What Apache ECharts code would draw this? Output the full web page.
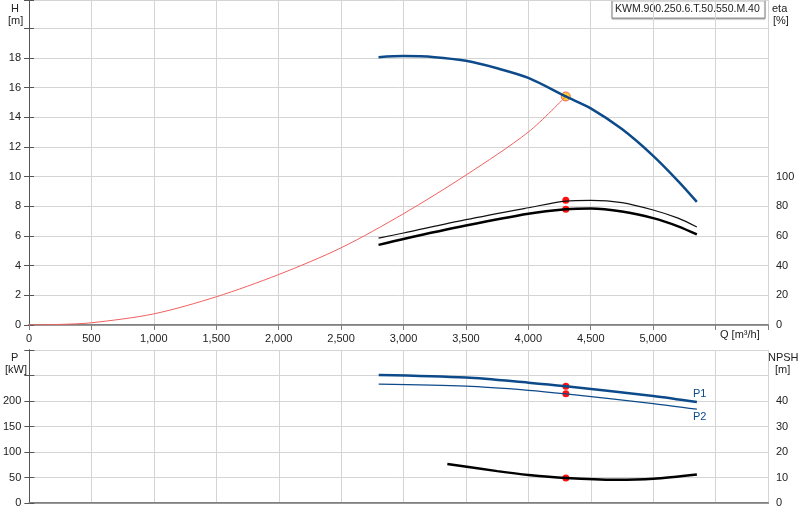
<!DOCTYPE html><html><head><meta charset="utf-8"><script src="https://cdn.jsdelivr.net/npm/echarts@6/dist/echarts.min.js"></script>
<style>html,body{margin:0;padding:0;background:#fff}#c{width:800px;height:520px}</style></head><body><div id="c"></div><script>
const headQ=[2800,3000,3250,3500,3750,4000,4300,4500,4750,5000,5200,5350];
const headH=[18.05,18.12,18.05,17.8,17.3,16.65,15.4,14.6,13.2,11.4,9.7,8.3];
const sysQ=[0,250,500,1000,1500,2000,2500,3000,3500,4000,4300];
const sysH=[0,0.04,0.15,0.75,1.9,3.4,5.2,7.5,10.1,13.0,15.4];
const etaQ=[2800,3000,3500,4000,4300,4500,4750,5000,5200,5350];
const eta1=[58.5,62,71,79,83.5,84,82.5,77.5,72,66];
const eta2=[54,58,67,75,78,78.5,76.5,72,66.5,61];
const pQ=[2800,3500,4000,4300,5000,5350];
const p1=[251,246,236,229,210,198];
const p2=[233,229,221,214,195,184];
const npshQ=[3350,3750,4000,4300,4700,5000,5350];
const npsh=[15.3,12.5,11,9.8,9.1,9.5,11.2];
const opQ=4300, opH=15.4, opEta1=84, opEta2=78, opP1=229, opP2=214, opNpsh=9.8;
const xTicks=[0,500,1000,1500,2000,2500,3000,3500,4000,4500,5000];
const zip=(a,b)=>a.map((v,i)=>[v,b[i]]);
const F='Liberation Sans';
const lbl={fontFamily:F,fontSize:11,color:'#222'};
const split={show:true,lineStyle:{color:'#d4d4d4',width:1}};
const red={color:'#ff1010',opacity:1};
const c=echarts.init(document.getElementById('c'));
c.setOption({animation:false,
grid:[{left:29,right:32,top:0,height:325},{left:29,right:32,top:350,height:153}],
xAxis:[{gridIndex:0,type:'value',min:0,max:5920,interval:500,axisLine:{lineStyle:{color:'#808080',width:2}},axisTick:{show:true,lineStyle:{color:'#808080'}},splitLine:split,
 axisLabel:Object.assign({},lbl,{formatter:v=>xTicks.includes(v)?v.toLocaleString('en-US'):''}),},
{gridIndex:0,position:'top',type:'value',min:0,max:5920,axisLine:{show:true,lineStyle:{color:'#999'}},axisTick:{show:false},axisLabel:{show:false},splitLine:{show:false}},
{gridIndex:1,type:'value',min:0,max:5920,interval:500,axisLine:{lineStyle:{color:'#808080',width:2}},axisTick:{show:false},splitLine:split,axisLabel:{show:false}},
{gridIndex:1,position:'top',type:'value',min:0,max:5920,axisLine:{show:true,lineStyle:{color:'#999'}},axisTick:{show:false},axisLabel:{show:false},splitLine:{show:false}}],
yAxis:[{gridIndex:0,type:'value',min:0,max:21.9,interval:2,axisLine:{show:true,lineStyle:{color:'#555'}},axisTick:{show:true},splitLine:split,axisLabel:Object.assign({},lbl,{formatter:v=>v>18?'':v})},
{gridIndex:0,type:'value',position:'right',min:0,max:219,interval:20,axisLine:{show:true,lineStyle:{color:'#555'}},axisTick:{show:true},splitLine:{show:false},axisLabel:Object.assign({},lbl,{formatter:v=>v>100?'':v})},
{gridIndex:1,type:'value',min:0,max:300,interval:50,axisLine:{show:true,lineStyle:{color:'#555'}},axisTick:{show:true},splitLine:split,axisLabel:Object.assign({},lbl,{formatter:v=>v>200?'':v})},
{gridIndex:1,type:'value',position:'right',min:0,max:60,interval:10,axisLine:{show:true,lineStyle:{color:'#555'}},axisTick:{show:true},splitLine:{show:false},axisLabel:Object.assign({},lbl,{formatter:v=>v>40?'':v})}],
series:[
{type:'line',xAxisIndex:0,yAxisIndex:0,data:zip(sysQ,sysH),smooth:0.3,symbol:'none',lineStyle:{color:'#f06060',width:1}},
{type:'line',xAxisIndex:0,yAxisIndex:0,data:zip(headQ,headH),smooth:0.3,symbol:'none',lineStyle:{color:'#0d4a8a',width:2.5}},
{type:'line',xAxisIndex:0,yAxisIndex:1,data:zip(etaQ,eta1),smooth:0.3,symbol:'none',lineStyle:{color:'#111',width:1.2}},
{type:'line',xAxisIndex:0,yAxisIndex:1,data:zip(etaQ,eta2),smooth:0.3,symbol:'none',lineStyle:{color:'#000',width:2.5}},
{type:'scatter',xAxisIndex:0,yAxisIndex:1,data:[[opQ,opEta1],[opQ,opEta2]],symbolSize:7,itemStyle:red},
{type:'scatter',xAxisIndex:0,yAxisIndex:0,data:[[opQ,opH]],symbolSize:9,itemStyle:{color:'#ffd030',opacity:1,borderColor:'#f06060',borderWidth:1}},
{type:'line',xAxisIndex:2,yAxisIndex:2,data:zip(pQ,p1),smooth:0.3,symbol:'none',lineStyle:{color:'#0d4a8a',width:2.5},endLabel:{show:true,formatter:'P1',color:'#0d4a8a',fontFamily:F,fontSize:11,offset:[-12,-8]}},
{type:'line',xAxisIndex:2,yAxisIndex:2,data:zip(pQ,p2),smooth:0.3,symbol:'none',lineStyle:{color:'#0d4a8a',width:1.2},endLabel:{show:true,formatter:'P2',color:'#0d4a8a',fontFamily:F,fontSize:11,offset:[-12,8]}},
{type:'line',xAxisIndex:2,yAxisIndex:3,data:zip(npshQ,npsh),smooth:0.3,symbol:'none',lineStyle:{color:'#000',width:2.5}},
{type:'scatter',xAxisIndex:2,yAxisIndex:2,data:[[opQ,opP1],[opQ,opP2]],symbolSize:7,itemStyle:red},
{type:'scatter',xAxisIndex:2,yAxisIndex:3,data:[[opQ,opNpsh]],symbolSize:7,itemStyle:red}],
graphic:[
{type:'text',left:11,top:3,style:{text:'H',font:'11px '+F,fill:'#222'}},
{type:'text',left:8,top:15,style:{text:'[m]',font:'11px '+F,fill:'#222'}},
{type:'text',left:772,top:3,style:{text:'eta',font:'11px '+F,fill:'#222'}},
{type:'text',left:773,top:15,style:{text:'[%]',font:'11px '+F,fill:'#222'}},
{type:'text',left:720,top:329,style:{text:'Q [m³/h]',font:'11px '+F,fill:'#222'}},
{type:'text',left:11,top:352,style:{text:'P',font:'11px '+F,fill:'#222'}},
{type:'text',left:5,top:364,style:{text:'[kW]',font:'11px '+F,fill:'#222'}},
{type:'text',left:768,top:352,style:{text:'NPSH',font:'11px '+F,fill:'#222'}},
{type:'text',left:775,top:364,style:{text:'[m]',font:'11px '+F,fill:'#222'}},
{type:'rect',shape:{x:612,y:0,width:153,height:18},style:{fill:'#fff',stroke:'#999',lineWidth:1,shadowColor:'rgba(0,0,0,0.3)',shadowOffsetY:1,shadowBlur:1}},
{type:'text',left:615,top:4,style:{text:'KWM.900.250.6.T.50.550.M.40',font:'10.5px '+F,fill:'#222'}}]
});
</script></body></html>
